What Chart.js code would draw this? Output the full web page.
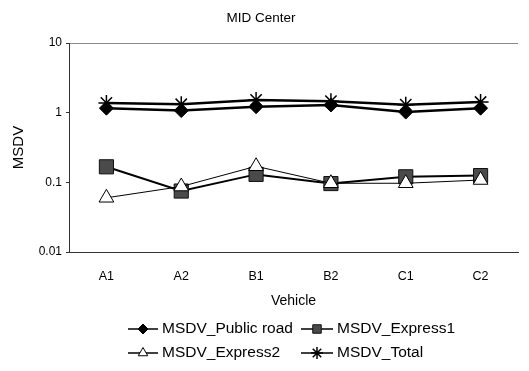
<!DOCTYPE html>
<html>
<head>
<meta charset="utf-8">
<script src="https://cdn.jsdelivr.net/npm/chart.js@4/dist/chart.umd.min.js"></script>
<style>
  html, body { margin: 0; padding: 0; background: #fff; }
  #c { display: block; }
</style>
</head>
<body>
<canvas id="c" width="529" height="371"></canvas>
<script>
// Vehicles on the x axis
const vehicles = ['A1', 'A2', 'B1', 'B2', 'C1', 'C2'];

// MSDV per vehicle for each road condition
const msdvPublicRoad = [1.16, 1.07, 1.22, 1.29, 1.02, 1.16];
const msdvExpress1   = [0.167, 0.075, 0.13, 0.096, 0.12, 0.125];
const msdvExpress2   = [0.06, 0.087, 0.17, 0.097, 0.097, 0.108];
const msdvTotal      = [1.38, 1.32, 1.52, 1.46, 1.3, 1.42];

// Decade ticks of the log axis
const yTicks = [0.01, 0.1, 1, 10];

const FONT = "Arial, 'Liberation Sans', sans-serif";
Chart.defaults.font.family = FONT;
Chart.defaults.color = '#000';

const datasets = [
  {
    label: 'MSDV_Public road', data: msdvPublicRoad, order: 0,
    borderColor: '#000', borderWidth: 2.5,
    pointStyle: 'rectRot', pointRadius: 7, pointBackgroundColor: '#000',
    pointBorderColor: '#000', pointBorderWidth: 1,
    legendRadius: 5
  },
  {
    label: 'MSDV_Express1', data: msdvExpress1, order: 2,
    borderColor: '#000', borderWidth: 2,
    pointStyle: 'rect', pointRadius: 10, pointBackgroundColor: '#4a4a4a',
    pointBorderColor: '#111', pointBorderWidth: 1,
    legendRadius: 6
  },
  {
    label: 'MSDV_Express2', data: msdvExpress2, order: 1,
    borderColor: '#000', borderWidth: 1,
    pointStyle: 'triangle', pointRadius: 8.5, pointBackgroundColor: '#fff',
    pointBorderColor: '#000', pointBorderWidth: 1,
    legendRadius: 5.5
  },
  {
    label: 'MSDV_Total', data: msdvTotal, order: 3,
    borderColor: '#000', borderWidth: 2.5,
    pointStyle: 'star', pointRadius: 8, pointBackgroundColor: '#000',
    pointBorderColor: '#000', pointBorderWidth: 1.5,
    legendRadius: 6
  }
];

// Legend laid out as a two-column grid under the axis title
const gridLegend = {
  id: 'gridLegend',
  afterDraw(chart) {
    const ctx = chart.ctx;
    const cols = [{ x0: 128, x1: 158, tx: 162 }, { x0: 301, x1: 333, tx: 337 }];
    const rows = [329, 353];
    ctx.save();
    ctx.font = '15.5px ' + FONT;
    ctx.textBaseline = 'middle';
    ctx.textAlign = 'left';
    chart.data.datasets.forEach((ds, i) => {
      const c = cols[i % 2], y = rows[Math.floor(i / 2)];
      ctx.strokeStyle = '#000';
      ctx.lineWidth = 1.5;
      ctx.beginPath();
      ctx.moveTo(c.x0, y);
      ctx.lineTo(c.x1, y);
      ctx.stroke();
      const cx = (c.x0 + c.x1) / 2;
      ctx.fillStyle = ds.pointBackgroundColor;
      ctx.strokeStyle = ds.pointBorderColor;
      ctx.lineWidth = ds.pointBorderWidth;
      Chart.helpers.drawPoint(ctx, {
        pointStyle: ds.pointStyle, radius: ds.legendRadius,
        rotation: 0, borderWidth: ds.pointBorderWidth
      }, cx, y);
      ctx.fillStyle = '#000';
      ctx.fillText(ds.label, c.tx, y);
    });
    ctx.restore();
  }
};

new Chart(document.getElementById('c'), {
  type: 'line',
  data: { labels: vehicles, datasets },
  plugins: [gridLegend],
  options: {
    responsive: false,
    animation: false,
    events: [],
    layout: { padding: { left: 0, right: 7, top: 0, bottom: 59 } },
    elements: { line: { tension: 0, fill: false } },
    plugins: {
      legend: { display: false },
      tooltip: { enabled: false },
      title: {
        display: true,
        text: 'MID Center',
        color: '#000',
        font: { size: 13.5, weight: 'normal' },
        padding: { top: 10, bottom: 16.8 }
      }
    },
    scales: {
      x: {
        type: 'category',
        offset: true,
        grid: { display: false },
        border: { display: true, color: '#333', width: 1 },
        ticks: { font: { size: 12.5 }, padding: 9, color: '#000' },
        title: {
          display: true, text: 'Vehicle', color: '#000',
          font: { size: 14 }, padding: { top: 0, bottom: 2 }
        },
        afterFit(scale) { scale.height = 60; }
      },
      y: {
        type: 'logarithmic',
        min: 0.01,
        max: 10,
        afterBuildTicks(scale) { scale.ticks = yTicks.map(v => ({ value: v })); },
        grid: {
          display: true,
          drawOnChartArea: true,
          color: (c) => (c.tick && c.tick.value === 10 ? '#8a8a8a' : 'rgba(0,0,0,0)'),
          tickColor: '#333',
          tickLength: 3,
          lineWidth: 1
        },
        border: { display: true, color: '#333', width: 1 },
        ticks: {
          font: { size: 12 }, padding: 4, color: '#000',
          callback: (v) => String(v)
        },
        title: {
          display: true, text: 'MSDV', color: '#000',
          font: { size: 15 }, padding: { top: 10, bottom: 0 }
        },
        afterFit(scale) { scale.width = 69; }
      }
    }
  }
});
</script>
</body>
</html>
